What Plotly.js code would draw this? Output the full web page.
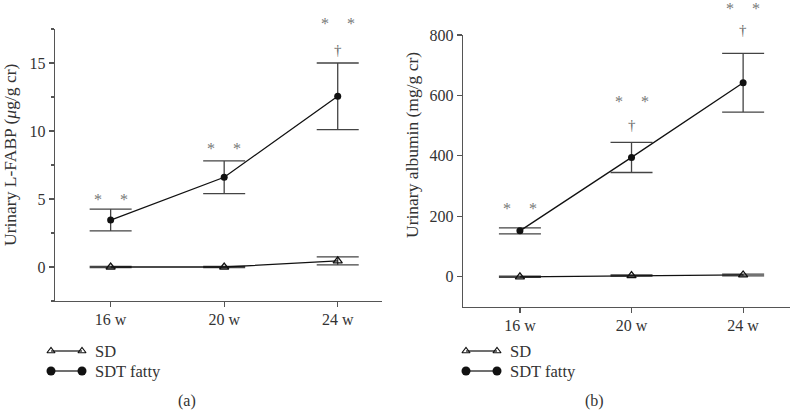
<!DOCTYPE html>
<html>
<head>
<meta charset="utf-8">
<script src="https://cdn.plot.ly/plotly-3.0.1.min.js"></script>
<style>html,body{margin:0;padding:0;background:#fff;}#chart{width:790px;height:412px;}</style>
</head>
<body>
<div id="chart"></div>
<script>
// ---------- data ----------
const categories = ['16 w', '20 w', '24 w'];
const catIndex = [0, 1, 2];

const fabpSD = [0.0, 0.0, 0.45];
const fabpSDErr = [0.05, 0.05, 0.3];
const fabpFatty = [3.45, 6.6, 12.55];
const fabpFattyErr = [0.8, 1.2, 2.45];

const albSD = [0, 4, 6];
const albSDErr = [2, 2, 3];
const albFatty = [152, 395, 642];
const albFattyErr = [10, 50, 97];

const legendLabels = ['SD', 'SDT fatty'];
const panelLabels = ['(a)', '(b)'];
const yTitles = ['Urinary L-FABP (<i>μ</i>g/g cr)', 'Urinary albumin (mg/g cr)'];

// significance marks per category
const fabpStars = ['*', '*', '*'];
const fabpDagger = ['', '', '†'];
const albStars = ['*', '*', '*'];
const albDagger = ['', '†', '†'];

// ---------- styles ----------
const FONT = '"Liberation Serif", serif';
const TXT = '#333';
const AX = '#555';
const LINE = '#111';

function seriesTraces(xa, ya, sd, sdErr, fat, fatErr) {
  return [
    {
      x: catIndex, y: sd, xaxis: xa, yaxis: ya, mode: 'lines+markers', type: 'scatter',
      line: {color: LINE, width: 1.3},
      marker: {symbol: 'triangle-up-open', size: 8, color: LINE, line: {width: 1.3}},
      error_y: {type: 'data', array: sdErr, visible: true, color: '#444', thickness: 1.3, width: 21},
      showlegend: false, cliponaxis: false
    },
    {
      x: catIndex, y: fat, xaxis: xa, yaxis: ya, mode: 'lines+markers', type: 'scatter',
      line: {color: LINE, width: 1.3},
      marker: {symbol: 'circle', size: 7, color: LINE},
      error_y: {type: 'data', array: fatErr, visible: true, color: '#444', thickness: 1.3, width: 21},
      showlegend: false, cliponaxis: false
    }
  ];
}

const traces = [].concat(
  seriesTraces('x', 'y', fabpSD, fabpSDErr, fabpFatty, fabpFattyErr),
  seriesTraces('x2', 'y2', albSD, albSDErr, albFatty, albFattyErr)
);

// legend glyphs on an overlay pixel axis
const legendPos = [{x0: 51, x1: 82, y: [351, 371]}, {x0: 466, x1: 497, y: [351, 371]}];
legendPos.forEach(function (p) {
  traces.push({
    x: [p.x0, p.x1], y: [p.y[0], p.y[0]], xaxis: 'x3', yaxis: 'y3', mode: 'lines+markers',
    line: {color: LINE, width: 1.2},
    marker: {symbol: 'triangle-up-open', size: 7, color: LINE, line: {width: 1.2}},
    showlegend: false, hoverinfo: 'skip'
  });
  traces.push({
    x: [p.x0, p.x1], y: [p.y[1], p.y[1]], xaxis: 'x3', yaxis: 'y3', mode: 'lines+markers',
    line: {color: LINE, width: 1.2},
    marker: {symbol: 'circle', size: 9, color: LINE},
    showlegend: false, hoverinfo: 'skip'
  });
});

const annotations = [];
function addMarks(xr, yr, means, errs, stars, daggers, starShift, daggerShift) {
  catIndex.forEach(function (i) {
    const top = means[i] + errs[i];
    if (stars[i]) {
      [-13, 13].forEach(function (dx) {
        annotations.push({x: i, y: top, xref: xr, yref: yr, text: stars[i], showarrow: false,
          xshift: dx, yshift: starShift[i], font: {family: FONT, size: 16, color: '#777'}});
      });
    }
    if (daggers[i]) {
      annotations.push({x: i, y: top, xref: xr, yref: yr, text: daggers[i], showarrow: false,
        xshift: 0, yshift: daggerShift[i], font: {family: FONT, size: 15, color: '#666'}});
    }
  });
}
addMarks('x', 'y', fabpFatty, fabpFattyErr, fabpStars, fabpDagger, [10, 12, 39], [0, 0, 13]);
addMarks('x2', 'y2', albFatty, albFattyErr, albStars, albDagger, [19, 41, 45], [0, 17, 23]);

// y-axis titles
[[10, 155], [412, 145]].forEach(function (p, k) {
  annotations.push({x: p[0], y: p[1], xref: 'x3', yref: 'y3', text: yTitles[k], showarrow: false,
    textangle: -90, xanchor: 'center', yanchor: 'middle', font: {family: FONT, size: 17.5, color: TXT}});
});

// legend text + panel labels
legendPos.forEach(function (p) {
  legendLabels.forEach(function (lab, j) {
    annotations.push({x: p.x1 + 11, y: p.y[j], xref: 'x3', yref: 'y3', text: lab, showarrow: false,
      xanchor: 'left', yanchor: 'middle', font: {family: FONT, size: 16.5, color: TXT}});
  });
});
[187, 594].forEach(function (px, k) {
  annotations.push({x: px, y: 401, xref: 'x3', yref: 'y3', text: panelLabels[k], showarrow: false,
    xanchor: 'center', yanchor: 'middle', font: {family: FONT, size: 16, color: TXT}});
});

function xAxis(domain, range, anchor) {
  return {
    domain: domain, range: range, anchor: anchor,
    tickmode: 'array', tickvals: catIndex, ticktext: categories,
    ticks: 'outside', ticklen: 5, tickwidth: 1.2, tickcolor: AX,
    showline: true, linecolor: AX, linewidth: 1.3,
    showgrid: false, zeroline: false, ticklabelstandoff: -2,
    tickfont: {family: FONT, size: 16, color: TXT}
  };
}
function yAxis(domain, range, dtick, minor, anchor) {
  const a = {
    domain: domain, range: range, anchor: anchor,
    tick0: 0, dtick: dtick,
    ticks: 'outside', ticklen: 5, tickwidth: 1.2, tickcolor: AX,
    showline: true, linecolor: AX, linewidth: 1.3,
    showgrid: false, zeroline: false,
    tickfont: {family: FONT, size: 16, color: TXT}
  };
  if (minor) a.minor = {ticks: 'outside', ticklen: 3, tick0: 0, dtick: minor, tickcolor: AX, showgrid: false};
  return a;
}

const layout = {
  width: 790, height: 412,
  margin: {l: 0, r: 0, t: 0, b: 0},
  paper_bgcolor: '#fff', plot_bgcolor: 'rgba(0,0,0,0)',
  showlegend: false,
  xaxis: xAxis([55 / 790, 382 / 790], [-0.49, 2.39], 'y'),
  yaxis: yAxis([1 - 301 / 412, 1 - 29 / 412], [-2.5, 17.5], 5, 2.5, 'x'),
  xaxis2: xAxis([463 / 790, 1], [-0.51, 2.42], 'y2'),
  yaxis2: yAxis([1 - 307 / 412, 1 - 35 / 412], [-100, 800], 200, null, 'x2'),
  xaxis3: {domain: [0, 1], range: [0, 790], visible: false, fixedrange: true, anchor: 'y3'},
  yaxis3: {domain: [0, 1], range: [412, 0], visible: false, fixedrange: true, anchor: 'x3'},
  annotations: annotations
};

Plotly.newPlot('chart', traces, layout, {staticPlot: true, displayModeBar: false});
</script>
</body>
</html>
